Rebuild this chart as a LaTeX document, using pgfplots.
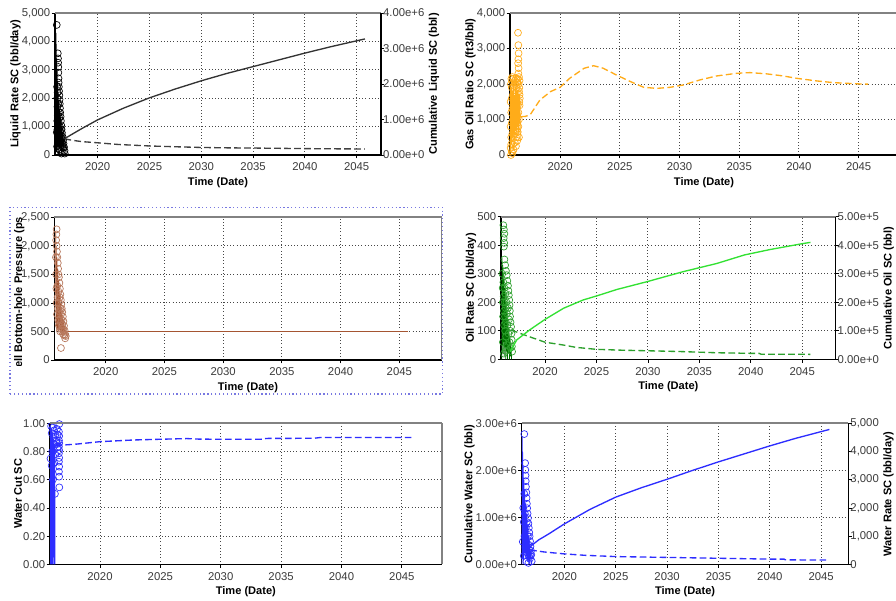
\documentclass[border=0pt]{standalone}
\usepackage{fontspec}
\setmainfont{Liberation Sans}
\usepackage{pgfplots}
\pgfplotsset{compat=1.18}
\definecolor{tickgray}{RGB}{60,60,60}
\definecolor{framegray}{RGB}{130,130,130}
\definecolor{gridgray}{RGB}{70,70,70}
\definecolor{orng}{RGB}{255,172,25}
\definecolor{brn}{RGB}{165,85,50}
\definecolor{gbright}{RGB}{50,225,50}
\definecolor{gmid}{RGB}{45,160,45}
\definecolor{gdark}{RGB}{0,110,0}
\definecolor{blu}{RGB}{45,45,255}
\definecolor{selbox}{RGB}{120,120,225}
\pgfplotsset{
  common/.style={scale only axis, anchor=south west,
    axis line style={black, line width=1pt},
    tick align=outside, major tick length=2.5pt,
    tick style={black, line width=0.6pt},
    scaled y ticks=false, scaled x ticks=false,
    ticklabel style={text=tickgray, font=\fontsize{8.5}{9}\selectfont},
    label style={font=\bfseries\fontsize{8.3}{10}\selectfont},
    clip=true},
  panel/.style={common,
    axis x line*=bottom, axis y line*=left,
    xmajorgrids, ymajorgrids,
    major grid style={dotted, gridgray, line width=0.7pt},
    xtick={2020,2025,2030,2035,2040,2045},
    xticklabels={2020,2025,2030,2035,2040,2045},
    xlabel={Time (Date)},
    xlabel style={yshift=2pt},
    yticklabel style={xshift=2.5pt},
    ylabel style={yshift=-6pt},
    ymin=0},
  twin/.style={common, axis x line=none, axis y line*=right, ymin=0,
    xtick=\empty, yticklabel style={xshift=-4.5pt}, ylabel style={yshift=3.5pt}},
  topframe/.style={after end axis/.append code={\draw[framegray, line width=1.3pt] (rel axis cs:0,1) -- (rel axis cs:1,1);}},
  rightframe/.style={after end axis/.append code={\draw[framegray, line width=1.3pt] (rel axis cs:1,0) -- (rel axis cs:1,1);}},
  sc/.style={only marks, mark=o, mark size=2.6pt, mark options={line width=0.5pt}},
  hist/.style={line width=0.5pt, mark=none},
  fc/.style={line width=1pt, mark=none, dash pattern=on 5pt off 2.5pt},
  cum/.style={line width=1pt, mark=none},
  p1/.style={at={(41.25pt,333.75pt)}, width=244.5pt, height=106.5pt, xmin=2015.88, xmax=2047.35},
  p2/.style={at={(382.5pt,333.75pt)}, width=291pt, height=106.3pt, xmin=2015.8, xmax=2048.3},
  p3/.style={at={(40.7pt,180pt)}, width=290.5pt, height=107pt, xmin=2015.62, xmax=2048.6},
  p4/.style={at={(375.75pt,180.5pt)}, width=251pt, height=107pt, xmin=2015.72, xmax=2048.25},
  p5/.style={at={(37.5pt,26.75pt)}, width=293.75pt, height=105.75pt, xmin=2015.86, xmax=2048.3},
  p6/.style={at={(391.3pt,26.75pt)}, width=245pt, height=105.75pt, xmin=2015.85, xmax=2047.65},
}
\begin{document}
\begin{tikzpicture}
\useasboundingbox (0,0) rectangle (672pt,450pt);
\clip (0,0) rectangle (672pt,450pt);
\fill[white] (0,0) rectangle (672pt,450pt);

% ---------------- Panel 1: liquid rate / cumulative liquid
\begin{axis}[panel, p1, topframe, ymax=5000,
  ytick={0,1000,2000,3000,4000,5000},
  yticklabels={0,{1,000},{2,000},{3,000},{4,000},{5,000}},
  ylabel={Liquid Rate SC (bbl/day)}]
\addplot[hist, black] coordinates {(2015.9,0)(2015.93,4450)(2015.95,200)(2015.97,4300)(2015.99,300)(2016.01,3900)(2016.03,100)(2016.05,3400)(2016.07,400)(2016.09,3000)(2016.11,200)(2016.14,2600)(2016.17,300)(2016.2,2200)(2016.23,100)(2016.27,1900)(2016.31,300)(2016.35,1600)(2016.4,200)(2016.45,1300)(2016.5,100)(2016.55,1000)(2016.6,300)(2016.66,800)(2016.72,200)(2016.78,560)};
\addplot[sc, black] coordinates {(2016.05,4580)(2016.15,3580)(2016.17,3400)(2016.18,3250)(2016.2,3100)(2016.2,2900)(2016.22,2700)(2016.23,2550)(2016.25,2400)(2016.27,2250)(2016.3,2100)(2016.32,1950)(2016.34,1800)(2016.36,1650)(2016.38,1500)(2016.42,1350)(2016.45,1200)(2016.48,1050)(2016.52,900)(2016.55,780)(2016.6,650)(2016.65,520)(2016.7,400)(2016.75,280)(2016.8,150)(2016.82,50)(2016.08,2400)(2016.1,2000)(2016.12,1700)(2016.14,2200)(2016.1,1200)(2016.12,900)(2016.15,1400)(2016.18,1800)(2016.2,1100)(2016.22,600)(2016.25,1500)(2016.28,900)(2016.3,1300)(2016.33,700)(2016.35,1000)(2016.4,800)(2016.43,500)(2016.45,900)(2016.5,600)(2016.55,400)(2016.6,300)(2016.62,100)(2016.68,250)(2016.05,800)(2016.08,300)(2016.15,400)(2016.3,200)(2016.4,150)(2016.5,50)};
\addplot[fc, black!75] coordinates {(2016.8,570)(2017.5,520)(2018.5,470)(2020,430)(2022,370)(2025,318)(2027.5,290)(2030,265)(2032.5,252)(2035,245)(2037.5,235)(2040,225)(2042.5,218)(2045.8,212)};
\end{axis}
\begin{axis}[twin, p1, ymax=4e6,
  ytick={0,1e6,2e6,3e6,4e6},
  yticklabels={0.00e+0,1.00e+6,2.00e+6,3.00e+6,4.00e+6},
  ylabel={Cumulative Liquid SC (bbl)}]
\addplot[cum, black!80] coordinates {(2016.8,0.46e6)(2017.5,0.58e6)(2018.5,0.75e6)(2020,0.99e6)(2022.5,1.32e6)(2025,1.61e6)(2027.5,1.86e6)(2030,2.09e6)(2032.5,2.30e6)(2035,2.49e6)(2037.5,2.68e6)(2040,2.87e6)(2042.5,3.05e6)(2045.8,3.27e6)};
\end{axis}

% ---------------- Panel 2: gas oil ratio
\begin{axis}[panel, p2, topframe, ymax=4000,
  ytick={0,1000,2000,3000,4000},
  yticklabels={0,{1,000},{2,000},{3,000},{4,000}},
  ylabel={Gas Oil Ratio SC (ft3/bbl)}]
\addplot[hist, orng] coordinates {(2015.82,0)(2015.85,2000)(2015.87,100)(2015.9,1900)(2015.93,300)(2015.96,2100)(2016.0,500)(2016.03,1800)(2016.06,200)(2016.1,2000)(2016.13,600)(2016.16,1700)(2016.2,400)(2016.24,2100)(2016.28,700)(2016.32,1900)(2016.36,500)(2016.4,1800)(2016.44,800)(2016.48,2000)(2016.52,600)(2016.56,1700)(2016.6,900)(2016.64,2200)(2016.66,400)};
\addplot[sc, orng] coordinates {(2016.47,3450)(2016.5,3100)(2016.52,2870)(2016.5,2700)(2016.48,2590)(2016.52,2450)(2016.5,2300)(2016.55,2200)(2016.45,2150)(2016.6,2100)(2016.52,2000)(2016.58,1900)(2016.55,1800)(2016.6,1700)(2016.62,1600)(2016.58,1500)(2016.6,1400)(2015.88,2000)(2015.92,2150)(2015.95,1900)(2016.0,2200)(2016.05,2050)(2016.1,2150)(2016.15,1950)(2016.2,2100)(2016.25,2000)(2016.3,2150)(2016.35,1900)(2016.4,2050)(2015.85,1500)(2015.9,1200)(2015.95,1600)(2016.0,1300)(2016.05,1700)(2016.1,1100)(2016.15,1500)(2016.2,1300)(2016.25,1650)(2016.3,1200)(2016.35,1500)(2016.4,1100)(2016.45,1400)(2016.5,1200)(2016.55,1000)(2015.85,800)(2015.9,500)(2015.95,900)(2016.0,600)(2016.05,1000)(2016.1,700)(2016.15,900)(2016.2,600)(2016.25,800)(2016.3,500)(2016.35,700)(2016.4,900)(2016.45,650)(2016.5,800)(2016.55,500)(2015.85,200)(2015.88,0)(2015.9,300)(2015.95,100)(2016.0,50)(2016.05,300)(2016.1,150)(2016.2,350)(2016.3,250)(2016.4,400)};
\addplot[fc, orng] coordinates {(2016.73,1080)(2017.1,1090)(2017.5,1140)(2018.3,1550)(2019.2,1790)(2020,1910)(2020.8,2165)(2022,2447)(2022.8,2520)(2023.6,2450)(2024.7,2260)(2025.9,2070)(2027,1910)(2028.1,1880)(2029.2,1910)(2030.3,1975)(2031.7,2118)(2033.1,2230)(2034.8,2306)(2035.9,2325)(2037.3,2290)(2038.7,2230)(2039.8,2165)(2041.5,2090)(2042.9,2042)(2045.1,2005)(2045.8,2000)};
\end{axis}

% ---------------- Panel 3: bottom-hole pressure
\draw[selbox, dotted, line width=0.9pt] (7.5pt,154.5pt) rectangle (332pt,294.5pt);
\begin{axis}[panel, p3, topframe, rightframe, ymax=2500,
  ytick={0,500,1000,1500,2000,2500},
  yticklabels={0,500,{1,000},{1,500},{2,000},{2,500}}]
\addplot[hist, brn] coordinates {(2015.74,2250)(2015.76,600)(2015.79,2000)(2015.82,500)(2015.85,1800)(2015.88,550)(2015.92,1600)(2015.96,500)(2016.0,1400)(2016.05,550)(2016.1,1200)(2016.15,500)(2016.2,1000)(2016.25,450)(2016.3,800)(2016.35,500)(2016.4,700)(2016.45,450)(2016.5,600)(2016.55,500)};
\addplot[sc, brn!80] coordinates {(2015.82,2290)(2015.8,2200)(2015.78,2100)(2015.82,2000)(2015.85,1900)(2015.88,1800)(2015.92,1700)(2015.95,1600)(2015.98,1500)(2016.02,1450)(2016.06,1350)(2016.1,1250)(2016.14,1150)(2016.18,1050)(2016.22,980)(2016.26,900)(2016.3,840)(2016.35,760)(2016.4,680)(2016.45,600)(2016.5,520)(2016.55,450)(2016.6,420)(2016.55,380)(2016.19,210)(2015.76,1800)(2015.78,1500)(2015.8,1250)(2015.82,1000)(2015.85,800)(2015.88,1300)(2015.9,1100)(2015.92,900)(2015.95,700)(2015.98,1200)(2016.0,1000)(2016.02,600)(2016.05,850)(2016.08,1100)(2016.1,700)(2016.12,500)(2016.15,900)(2016.18,650)(2016.2,800)(2016.22,550)(2016.25,700)(2016.28,500)(2016.3,620)(2016.35,550)(2016.38,450)(2016.42,500)(2016.48,430)};
\addplot[color=brn, line width=1.4pt, mark=none, solid] coordinates {(2016.55,500)(2045.7,500)};
\end{axis}
\begin{scope}
\clip (0pt,175.5pt) rectangle (38pt,287.5pt);
\node[rotate=90, font=\bfseries\fontsize{8.3}{10}\selectfont] at (14.5pt,229.5pt) {Well Bottom-hole Pressure (psi)};
\end{scope}

% ---------------- Panel 4: oil rate / cumulative oil
\begin{axis}[panel, p4, topframe, ymax=500,
  ytick={0,100,200,300,400,500},
  yticklabels={0,100,200,300,400,500},
  ylabel={Oil Rate SC (bbl/day)}]
\addplot[hist, gdark] coordinates {(2015.8,0)(2015.83,355)(2015.86,50)(2015.89,330)(2015.92,20)(2015.95,300)(2015.98,60)(2016.01,280)(2016.04,10)(2016.07,250)(2016.1,40)(2016.14,230)(2016.18,0)(2016.22,200)(2016.26,30)(2016.3,170)(2016.35,0)(2016.4,140)(2016.45,20)(2016.5,110)(2016.55,0)(2016.6,80)(2016.65,10)(2016.7,50)(2016.75,0)};
\addplot[sc, gmid] coordinates {(2015.95,470)(2016.0,455)(2016.05,440)(2015.98,425)(2016.03,408)(2016.0,395)(2016.05,350)(2016.12,330)(2016.2,310)(2016.28,295)(2016.34,275)(2016.4,258)(2016.44,240)(2016.48,225)(2016.52,208)(2016.55,190)(2016.58,170)(2016.6,150)(2016.65,130)(2016.7,114)(2016.74,90)(2016.76,68)(2016.78,45)(2016.8,27)(2015.85,300)(2015.88,250)(2015.9,200)(2015.92,150)(2015.95,270)(2015.98,220)(2016.0,170)(2016.02,120)(2016.05,250)(2016.08,200)(2016.1,150)(2016.12,100)(2016.15,230)(2016.18,180)(2016.2,130)(2016.22,80)(2016.25,200)(2016.3,160)(2016.35,120)(2016.4,180)(2016.45,90)(2016.5,140)(2016.55,60)(2016.6,100)(2016.3,50)(2016.15,30)(2015.9,60)(2016.0,20)(2016.65,40)};
\addplot[fc, gmid] coordinates {(2016.7,103)(2017.5,92)(2018.5,79)(2020,60)(2021.8,50)(2023,42)(2025,35)(2027.5,32)(2030,30)(2033.4,27)(2036.7,23)(2039.9,21)(2040.8,21)(2041,18)(2045.8,17.5)};
\end{axis}
\begin{axis}[twin, p4, ymax=5e5,
  ytick={0,1e5,2e5,3e5,4e5,5e5},
  yticklabels={0.00e+0,1.00e+5,2.00e+5,3.00e+5,4.00e+5,5.00e+5},
  ylabel={Cumulative Oil SC (bbl)}]
\addplot[cum, gbright] coordinates {(2016.6,2.7e4)(2017.25,6.8e4)(2018.5,1.03e5)(2020,1.4e5)(2021.8,1.79e5)(2023.7,2.08e5)(2025,2.22e5)(2027,2.45e5)(2029.9,2.72e5)(2033.4,3.07e5)(2036.7,3.36e5)(2039.4,3.66e5)(2041.9,3.85e5)(2044.8,4.04e5)(2045.8,4.1e5)};
\end{axis}

% ---------------- Panel 5: water cut
\begin{axis}[panel, p5, topframe, rightframe, ymax=1,
  ytick={0,0.2,0.4,0.6,0.8,1},
  yticklabels={0.00,0.20,0.40,0.60,0.80,1.00},
  ylabel={Water Cut SC}]
\addplot[hist, blu] coordinates {(2015.88,0)(2015.9,0.98)(2015.92,0)(2015.94,0.97)(2015.96,0)(2015.98,0.96)(2016.0,0)(2016.02,0.95)(2016.04,0.02)(2016.06,0.93)(2016.08,0)(2016.1,0.9)(2016.12,0)(2016.14,0.88)(2016.16,0.05)(2016.18,0.86)(2016.2,0)(2016.22,0.85)(2016.24,0)(2016.26,0.84)(2016.28,0)};
\addplot[sc, blu] coordinates {(2016.63,0.995)(2016.6,0.94)(2016.62,0.91)(2016.6,0.88)(2016.63,0.86)(2016.6,0.835)(2016.62,0.81)(2016.6,0.787)(2016.62,0.755)(2016.6,0.728)(2016.62,0.693)(2016.6,0.657)(2016.62,0.622)(2016.63,0.546)(2016.27,0.50)(2016.4,0.88)(2016.45,0.86)(2016.5,0.83)(2016.35,0.87)(2016.3,0.92)(2016.2,0.95)(2016.1,0.97)(2015.95,0.98)(2016.0,0.93)(2016.15,0.9)(2016.25,0.85)(2016.05,0.8)(2015.9,0.75)(2016.0,0.7)(2016.1,0.6)(2016.2,0.72)(2016.3,0.78)(2016.45,0.96)(2016.5,0.92)};
\addplot[fc, blu] coordinates {(2016.3,0.845)(2016.96,0.846)(2018.1,0.853)(2020,0.870)(2022.8,0.882)(2025,0.887)(2027.2,0.892)(2028.2,0.888)(2031,0.887)(2033.3,0.887)(2033.8,0.893)(2037.7,0.894)(2038.3,0.90)(2045.8,0.90)};
\end{axis}

% ---------------- Panel 6: cumulative water / water rate
\begin{axis}[panel, p6, topframe, ymax=3e6,
  ytick={0,1e6,2e6,3e6},
  yticklabels={0.00e+0,1.00e+6,2.00e+6,3.00e+6},
  ylabel={Cumulative Water SC (bbl)}]
\addplot[cum, blu] coordinates {(2016.66,0.376e6)(2017.5,0.52e6)(2018.5,0.65e6)(2020,0.86e6)(2022.5,1.17e6)(2025,1.43e6)(2027.5,1.63e6)(2030,1.81e6)(2032.5,2.0e6)(2035,2.18e6)(2037.5,2.35e6)(2040,2.52e6)(2042.5,2.68e6)(2045.8,2.87e6)};
\end{axis}
\begin{axis}[twin, p6, ymax=5000,
  ytick={0,1000,2000,3000,4000,5000},
  yticklabels={0,{1,000},{2,000},{3,000},{4,000},{5,000}},
  ylabel={Water Rate SC (bbl/day)}]
\addplot[hist, blu] coordinates {(2015.87,0)(2015.9,4550)(2015.92,200)(2015.94,4000)(2015.97,300)(2016.0,3500)(2016.03,100)(2016.07,3000)(2016.11,400)(2016.15,2600)(2016.2,200)(2016.25,2200)(2016.3,300)(2016.35,1800)(2016.4,100)(2016.45,1400)(2016.5,200)(2016.55,1000)(2016.6,100)(2016.65,700)(2016.7,200)(2016.75,400)(2016.8,0)};
\addplot[sc, blu] coordinates {(2016.1,4620)(2016.18,3590)(2016.2,3350)(2016.22,3150)(2016.24,2950)(2016.26,2750)(2016.3,2550)(2016.32,2350)(2016.35,2150)(2016.38,1990)(2016.42,1800)(2016.46,1640)(2016.5,1450)(2016.54,1290)(2016.58,1130)(2016.62,990)(2016.66,820)(2016.7,640)(2016.75,480)(2016.78,340)(2016.82,110)(2016.0,2000)(2016.05,1500)(2016.1,2500)(2016.12,1000)(2016.15,1800)(2016.2,600)(2016.25,1300)(2016.3,800)(2016.35,1500)(2016.4,400)(2016.45,1000)(2016.5,700)(2016.55,300)(2016.6,500)(2016.65,200)(2016.7,300)(2015.95,800)(2016.05,300)(2016.3,100)(2016.5,50)};
\addplot[fc, blu] coordinates {(2016.66,510)(2018,440)(2020,370)(2022,320)(2025,275)(2030,245)(2035,215)(2040,185)(2041.4,185)(2041.5,160)(2045.8,150)};
\end{axis}
\end{tikzpicture}
\end{document}
